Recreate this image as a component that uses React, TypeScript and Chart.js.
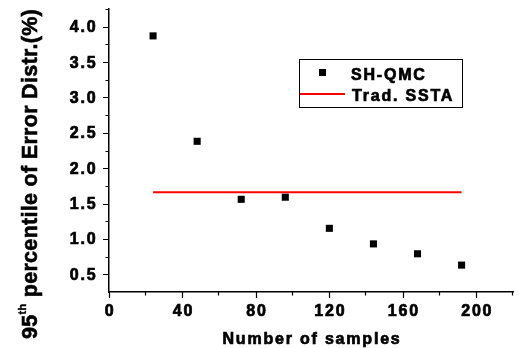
import React, { useEffect, useRef } from 'react';
import { Chart, registerables } from 'chart.js';

Chart.register(...registerables);

// ---- data ----
const samples = [24, 48, 72, 96, 120, 144, 168, 192];
const shQmc = [3.87, 2.38, 1.56, 1.59, 1.15, 0.93, 0.79, 0.63];
const tradSsta = [1.66, 1.66, 1.66, 1.66, 1.66, 1.66, 1.66, 1.66];
const seriesNames = ['SH-QMC', 'Trad. SSTA'];

const xMajorTicks = [0, 40, 80, 120, 160, 200];
const xMinorTicks = [20, 60, 100, 140, 180, 220];
const yMajorTicks = [0.5, 1.0, 1.5, 2.0, 2.5, 3.0, 3.5, 4.0];
const yMinorTicks = [0.75, 1.25, 1.75, 2.25, 2.75, 3.25, 3.75, 4.25];

const xTitle = 'Number of samples';
const yTitleMain = '95';
const yTitleSup = 'th';
const yTitleRest = ' percentile of Error Distr.(%)';

const FONT = '"Liberation Sans", Arial, Helvetica, sans-serif';

function boldText(ctx: CanvasRenderingContext2D, s: string, x: number, y: number, sw = 0.7) {
  ctx.fillText(s, x, y);
  ctx.lineWidth = sw;
  ctx.strokeText(s, x, y);
}

const customDraw = {
  id: 'customDraw',
  afterDraw(chart: any) {
    const ctx = chart.ctx as CanvasRenderingContext2D;
    const { left, right, bottom } = chart.chartArea;
    const xs = chart.scales.x;
    const ys = chart.scales.y;
    ctx.save();
    ctx.strokeStyle = '#000';
    ctx.lineWidth = 1.2;
    ctx.beginPath();
    xMajorTicks.forEach((v) => {
      const px = Math.round(xs.getPixelForValue(v)) + 0.5;
      ctx.moveTo(px, bottom);
      ctx.lineTo(px, bottom + 6);
    });
    xMinorTicks.forEach((v) => {
      const px = Math.round(xs.getPixelForValue(v)) - 0.5;
      ctx.moveTo(px, bottom);
      ctx.lineTo(px, bottom + 3.5);
    });
    yMajorTicks.forEach((v) => {
      const py = Math.round(ys.getPixelForValue(v)) + 0.5;
      ctx.moveTo(left, py);
      ctx.lineTo(left - 6, py);
    });
    yMinorTicks.forEach((v) => {
      const py = Math.round(ys.getPixelForValue(v)) + 0.5;
      ctx.moveTo(left, py);
      ctx.lineTo(left - 3.5, py);
    });
    ctx.stroke();

    ctx.fillStyle = '#000';
    ctx.strokeStyle = '#000';
    ctx.font = `bold 16px ${FONT}`;
    ctx.letterSpacing = '1.8px';

    // x tick labels
    ctx.textAlign = 'center';
    ctx.textBaseline = 'alphabetic';
    xMajorTicks.forEach((v) => {
      const px = xs.getPixelForValue(v) + 1;
      boldText(ctx, String(v), px, 316);
    });
    // y tick labels
    ctx.textAlign = 'right';
    yMajorTicks.forEach((v) => {
      const py = ys.getPixelForValue(v);
      boldText(ctx, v.toFixed(1), 97.5, py + 5.5);
    });

    // x title
    ctx.textAlign = 'center';
    boldText(ctx, xTitle, (left + right) / 2 + 1, 343.5);

    // y title (rotated, with superscript)
    ctx.save();
    ctx.letterSpacing = '0.3px';
    ctx.translate(37, 174);
    ctx.rotate(-Math.PI / 2);
    ctx.textAlign = 'left';
    const mainFont = `bold 21.5px ${FONT}`;
    const supFont = `bold 11px ${FONT}`;
    ctx.font = mainFont;
    const w1 = ctx.measureText(yTitleMain).width;
    const w3 = ctx.measureText(yTitleRest).width;
    ctx.font = supFont;
    const w2 = ctx.measureText(yTitleSup).width;
    const total = w1 + w2 + w3;
    let x = -total / 2;
    ctx.font = mainFont;
    boldText(ctx, yTitleMain, x, 0, 0.6);
    x += w1;
    ctx.font = supFont;
    boldText(ctx, yTitleSup, x, -11.5, 0.4);
    x += w2;
    ctx.font = mainFont;
    boldText(ctx, yTitleRest, x, 0, 0.6);
    ctx.restore();

    // legend box
    ctx.strokeStyle = '#000';
    ctx.lineWidth = 1;
    ctx.strokeRect(299.5, 59.5, 163, 48);
    ctx.fillStyle = '#000';
    ctx.fillRect(319, 69, 7, 7);
    ctx.strokeStyle = '#ff0000';
    ctx.lineWidth = 2;
    ctx.beginPath();
    ctx.moveTo(300, 94);
    ctx.lineTo(345, 94);
    ctx.stroke();
    ctx.fillStyle = '#000';
    ctx.strokeStyle = '#000';
    ctx.font = `bold 16px ${FONT}`;
    ctx.letterSpacing = '1.8px';
    ctx.textAlign = 'left';
    boldText(ctx, seriesNames[0], 351, 80);
    boldText(ctx, seriesNames[1], 352, 101);
    ctx.restore();
  },
};

export default function App() {
  const ref = useRef<HTMLCanvasElement | null>(null);
  useEffect(() => {
    if (!ref.current) return;
    const chart = new Chart(ref.current, {
      type: 'scatter',
      data: {
        datasets: [
          {
            label: seriesNames[0],
            data: samples.map((x, i) => ({ x, y: shQmc[i] })),
            pointStyle: 'rect',
            pointRadius: 5,
            pointBackgroundColor: '#000',
            pointBorderWidth: 0,
            borderColor: '#000',
            backgroundColor: '#000',
            showLine: false,
          },
          {
            label: seriesNames[1],
            data: samples.map((x, i) => ({ x, y: tradSsta[i] })),
            showLine: true,
            borderColor: '#ff0000',
            backgroundColor: '#ff0000',
            borderWidth: 2,
            pointRadius: 0,
          },
        ],
      },
      options: {
        responsive: false,
        animation: false,
        layout: { padding: { top: 9, right: 0, left: 0, bottom: 0 } },
        plugins: { legend: { display: false }, tooltip: { enabled: false }, title: { display: false } },
        scales: {
          x: {
            type: 'linear',
            min: 0,
            max: 220,
            afterBuildTicks: (s: any) => {
              s.ticks = xMajorTicks.map((v) => ({ value: v }));
            },
            afterFit: (s: any) => {
              s.height = 56;
            },
            grid: { display: true, drawOnChartArea: false, drawTicks: false },
            border: { display: true, color: '#000', width: 1.5 },
            ticks: { display: false },
          },
          y: {
            type: 'linear',
            min: 0.25,
            max: 4.25,
            afterBuildTicks: (s: any) => {
              s.ticks = yMajorTicks.map((v) => ({ value: v }));
            },
            afterFit: (s: any) => {
              s.width = 109;
            },
            grid: { display: true, drawOnChartArea: false, drawTicks: false },
            border: { display: true, color: '#000', width: 1.5 },
            ticks: { display: false },
          },
        },
      },
      plugins: [customDraw],
    } as any);
    return () => chart.destroy();
  }, []);
  return (
    <div style={{ position: 'absolute', left: 0, top: 0, width: 518, height: 348, background: '#fff' }}>
      <canvas ref={ref} width={518} height={348} style={{ display: 'block' }} />
    </div>
  );
}
